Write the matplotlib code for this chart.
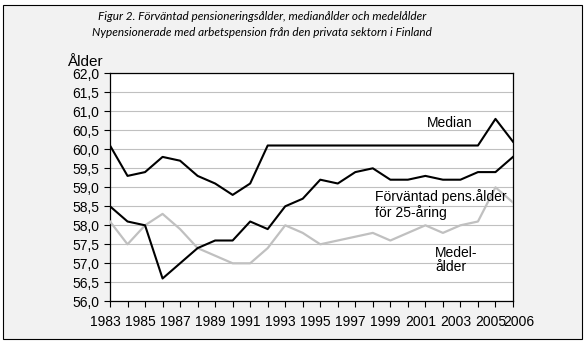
import numpy as np
import matplotlib
matplotlib.use("Agg")
import matplotlib.pyplot as plt
import matplotlib.transforms as mtransforms
from matplotlib.patches import Rectangle

years = list(range(1983, 2007))
median = [60.1, 59.3, 59.4, 59.8, 59.7, 59.3, 59.1, 58.8, 59.1, 60.1,
          60.1, 60.1, 60.1, 60.1, 60.1, 60.1, 60.1, 60.1, 60.1, 60.1,
          60.1, 60.1, 60.8, 60.2]
forvantad = [58.5, 58.1, 58.0, 56.6, 57.0, 57.4, 57.6, 57.6, 58.1, 57.9,
             58.5, 58.7, 59.2, 59.1, 59.4, 59.5, 59.2, 59.2, 59.3, 59.2,
             59.2, 59.4, 59.4, 59.8]
medel = [58.1, 57.5, 58.0, 58.3, 57.9, 57.4, 57.2, 57.0, 57.0, 57.4,
         58.0, 57.8, 57.5, 57.6, 57.7, 57.8, 57.6, 57.8, 58.0, 57.8,
         58.0, 58.1, 59.0, 58.6]
label_years = [1983, 1985, 1987, 1989, 1991, 1993, 1995, 1997, 1999,
               2001, 2003, 2005, 2006]

plt.rcParams['font.family'] = ['Liberation Sans', 'DejaVu Sans']

fig = plt.figure(figsize=(5.85, 3.45), dpi=100, facecolor='white')
# light gray panel with black border
fig.patches.append(Rectangle((3 / 585, 6 / 345), 579 / 585, 334 / 345,
                             transform=fig.transFigure, facecolor='#f2f2f2',
                             edgecolor='black', linewidth=0.8, zorder=-10))

ax = fig.add_axes([110 / 585, 1 - 301.3 / 345, 403 / 585, 228 / 345])
ax.set_zorder(1)
ax.set_facecolor('white')

ax.plot(years, medel, color='#c0c0c0', linewidth=1.6, zorder=3)
ax.plot(years, forvantad, color='black', linewidth=1.5, zorder=4)
ax.plot(years, median, color='black', linewidth=1.5, zorder=4)

ax.set_xlim(1983, 2006)
ax.set_ylim(56, 62)
ax.set_yticks(np.arange(56, 62.01, 0.5))
ax.set_yticklabels([f"{v:.1f}".replace('.', ',') for v in np.arange(56, 62.01, 0.5)])
ax.set_xticks(years)
ax.set_xticklabels([str(y) if y in label_years else '' for y in years])
ax.grid(axis='y', color='#c0c0c0', linewidth=0.8)
ax.set_axisbelow(True)
ax.tick_params(axis='both', labelsize=10, length=4, width=0.8, color='black')
ax.tick_params(axis='x', pad=6)
for s in ax.spines.values():
    s.set_linewidth(0.9)

# shift x labels like the original
for lab in ax.get_xticklabels():
    dx = 6 if lab.get_text() == '2006' else -5
    lab.set_transform(lab.get_transform() +
                      mtransforms.ScaledTranslation(dx / 100, 0, fig.dpi_scale_trans))

ax.text(2001.1, 60.69, 'Median', fontsize=10, va='center', ha='left')
ax.text(1998.1, 58.55, 'Förväntad pens.ålder\nför 25-åring', fontsize=10,
        va='center', ha='left', linespacing=1.05)
ax.text(2001.55, 57.09, 'Medel-\nålder', fontsize=10, va='center', ha='left',
        linespacing=1.05)

fig.text(67 / 585, 1 - 62 / 345, 'Ålder', fontsize=11, ha='left', va='center')
fig.text(262 / 585, 1 - 17 / 345,
         'Figur 2. Förväntad pensioneringsålder, medianålder och medelålder',
         fontsize=8.5, style='italic', ha='center', va='center', family='Lato')
fig.text(262 / 585, 1 - 32 / 345,
         'Nypensionerade med arbetspension från den privata sektorn i Finland',
         fontsize=8.5, style='italic', ha='center', va='center', family='Lato')

fig.savefig('out.png', dpi=100, facecolor=fig.get_facecolor())
